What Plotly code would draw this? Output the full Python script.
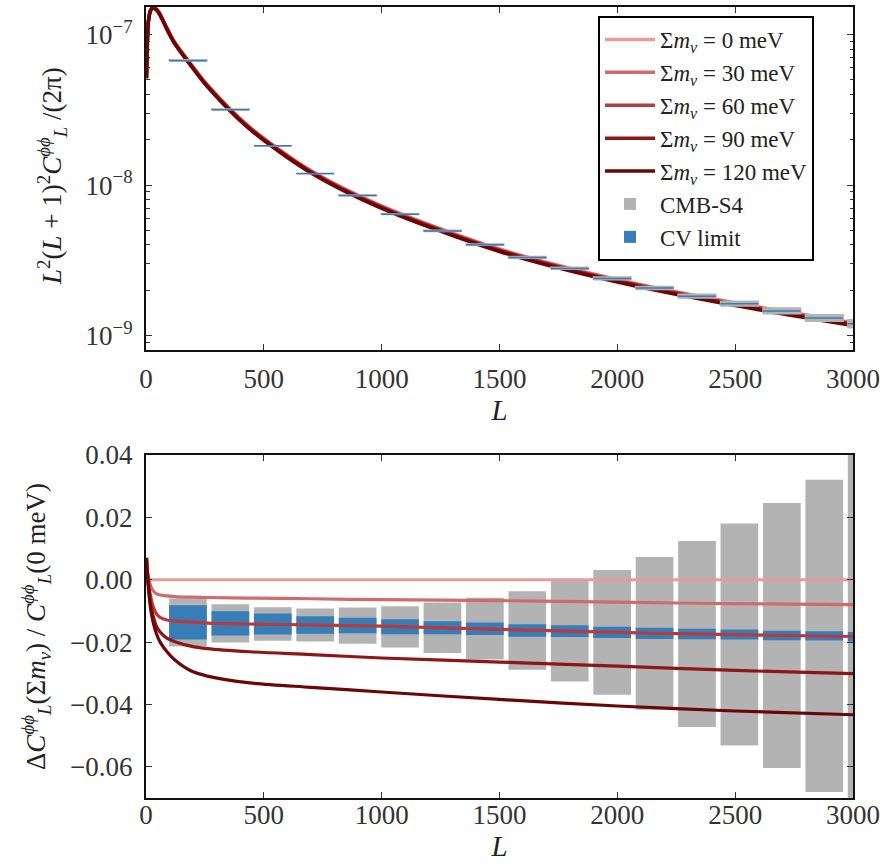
import plotly.graph_objects as go

# ---------------------------------------------------------------------------
# Lensing-potential power spectrum and its response to the neutrino mass sum
# ---------------------------------------------------------------------------

# Multipoles at which the curves are sampled
L_grid = [2, 5, 10, 20, 30, 45, 60, 90, 120, 190, 260, 440, 700, 1000,
          1500, 2000, 2500, 3000]

# L^2 (L+1)^2 C_L^{phi phi} / (2 pi) for the massless case
cl_0mev = [5.1e-8, 8.0e-8, 1.22e-7, 1.46e-7, 1.52e-7, 1.48e-7, 1.37e-7,
           1.10e-7, 9.0e-8, 6.4e-8, 4.65e-8, 2.43e-8, 1.247e-8, 7.27e-9,
           3.76e-9, 2.36e-9, 1.65e-9, 1.22e-9]

# Fractional change of C_L^{phi phi} relative to 0 meV
frac_0mev = [0.0] * len(L_grid)
frac_30mev = [0.007, 0.004, 0.001, -0.002, -0.0035, -0.0045, -0.0049, -0.0052,
              -0.0054, -0.0056, -0.0057, -0.0059, -0.0061, -0.0064, -0.0067,
              -0.0072, -0.0077, -0.0080]
frac_60mev = [0.007, 0.0035, -0.0005, -0.0055, -0.0085, -0.0110, -0.0121,
              -0.0129, -0.0132, -0.0136, -0.0139, -0.0142, -0.0145, -0.0149,
              -0.0159, -0.0169, -0.0176, -0.0182]
frac_90mev = [0.007, 0.003, -0.0015, -0.0080, -0.0115, -0.0150, -0.0168,
              -0.0188, -0.0198, -0.0213, -0.0221, -0.0231, -0.0240, -0.0251,
              -0.0264, -0.0277, -0.0291, -0.0301]
frac_120mev = [0.007, 0.0025, -0.0025, -0.0095, -0.0135, -0.0175, -0.0200,
               -0.0232, -0.0256, -0.0292, -0.0309, -0.0331, -0.0345, -0.0360,
               -0.0384, -0.0405, -0.0421, -0.0433]

mass_labels = ["0", "30", "60", "90", "120"]
mass_fracs = [frac_0mev, frac_30mev, frac_60mev, frac_90mev, frac_120mev]
mass_colors = ["#e99a9b", "#d06a6b", "#b73a3c", "#8e1616", "#6c0606"]

# Band-power bins
bin_L = [178, 358, 538, 718, 898, 1078, 1258, 1438, 1618, 1798, 1978, 2158,
         2338, 2518, 2698, 2878, 3058]
bin_value = [6.74e-8, 3.18e-8, 1.83e-8, 1.196e-8, 8.54e-9, 6.41e-9, 4.96e-9,
             4.02e-9, 3.31e-9, 2.80e-9, 2.40e-9, 2.07e-9, 1.83e-9, 1.63e-9,
             1.46e-9, 1.31e-9, 1.20e-9]
bin_frac_center = [-0.0137, -0.0140, -0.0142, -0.0145, -0.0147, -0.0151,
                   -0.0154, -0.0157, -0.0163, -0.0165, -0.0169, -0.0172,
                   -0.0174, -0.0176, -0.0179, -0.0180, -0.0183]
s4_err = [0.0077, 0.0061, 0.0054, 0.0053, 0.0058, 0.0066, 0.0081, 0.0099,
          0.0126, 0.0161, 0.0200, 0.0245, 0.0298, 0.0356, 0.0425, 0.0501,
          0.0600]
cv_err = [0.0055, 0.0039, 0.0034, 0.0028, 0.0025, 0.0024, 0.0021, 0.0020,
          0.0020, 0.0019, 0.0018, 0.0018, 0.0017, 0.0016, 0.0015, 0.0015,
          0.0015]

x_tick_vals = [0, 500, 1000, 1500, 2000, 2500, 3000]
top_tick_vals = [1e-9, 1e-8, 1e-7]
top_tick_text = ["10<sup>\u22129</sup>", "10<sup>\u22128</sup>", "10<sup>\u22127</sup>"]
top_minor_vals = [m * 10.0 ** e for e in (-10, -9, -8, -7) for m in range(2, 10)]
bottom_tick_vals = [-0.06, -0.04, -0.02, 0.0, 0.02, 0.04]

S4_COLOR = "#b3b3b3"
CV_COLOR = "#377eb8"
BAR_WIDTH = 160
FONT = "Liberation Serif"

W, H = 885, 865
x_dom = [146 / W, 853 / W]
top_dom = [1 - 350 / H, 1 - 7 / H]
bot_dom = [1 - 798 / H, 1 - 455 / H]

fig = go.Figure()

# --- upper panel: spectra for each neutrino mass ---------------------------
for lab, frac, col in zip(mass_labels, mass_fracs, mass_colors):
    spec = [c * (1.0 + f) for c, f in zip(cl_0mev, frac)]
    fig.add_trace(go.Scatter(
        x=L_grid, y=spec, mode="lines", xaxis="x", yaxis="y",
        line=dict(color=col, width=3.5, shape="spline", smoothing=0.8),
        name="\u03a3<i>m</i><sub><i>\u03bd</i></sub> = " + lab + " meV",
        legendgroup=lab,
    ))

# --- lower panel: error boxes (carry the legend entries for the boxes) ----
fig.add_trace(go.Bar(
    x=bin_L, y=[2 * e for e in s4_err],
    base=[c - e for c, e in zip(bin_frac_center, s4_err)],
    width=BAR_WIDTH, marker=dict(color=S4_COLOR, line=dict(width=0)),
    xaxis="x2", yaxis="y2", name="CMB-S4", legendgroup="s4",
))
fig.add_trace(go.Bar(
    x=bin_L, y=[2 * e for e in cv_err],
    base=[c - e for c, e in zip(bin_frac_center, cv_err)],
    width=BAR_WIDTH, marker=dict(color=CV_COLOR, line=dict(width=0)),
    xaxis="x2", yaxis="y2", name="CV limit", legendgroup="cv",
))


def box_path(centers, values, errs):
    xs, ys = [], []
    for xc, v, e in zip(centers, values, errs):
        x0, x1 = xc - BAR_WIDTH / 2, xc + BAR_WIDTH / 2
        y0, y1 = v * (1 - e), v * (1 + e)
        xs += [x0, x1, x1, x0, x0, None]
        ys += [y0, y0, y1, y1, y0, None]
    return xs, ys


# --- upper panel: band-power boxes on top of the spectra ---------------------
for errs, col in ((s4_err, S4_COLOR), (cv_err, CV_COLOR)):
    bx, by = box_path(bin_L, bin_value, errs)
    fig.add_trace(go.Scatter(
        x=bx, y=by, mode="lines", fill="toself", fillcolor=col,
        line=dict(color=col, width=1.5), xaxis="x", yaxis="y",
        showlegend=False, hoverinfo="skip",
    ))

# --- lower panel: fractional differences ------------------------------------
for lab, frac, col in zip(mass_labels, mass_fracs, mass_colors):
    fig.add_trace(go.Scatter(
        x=L_grid, y=frac, mode="lines", xaxis="x2", yaxis="y2",
        line=dict(color=col, width=3.2, shape="spline", smoothing=0.8),
        showlegend=False,
    ))

axis_common = dict(
    showline=True, linecolor="#111", linewidth=2, mirror="ticks",
    ticks="inside", ticklen=6, tickwidth=1.2, tickcolor="#333",
    showgrid=False, zeroline=False, automargin=False,
    tickfont=dict(family=FONT, size=27, color="#333"),
)

fig.update_layout(
    template="none",
    width=W, height=H,
    margin=dict(l=0, r=0, t=0, b=0),
    paper_bgcolor="white", plot_bgcolor="white",
    font=dict(family=FONT, size=27, color="#222"),
    barmode="overlay",
    xaxis=dict(domain=x_dom, anchor="y", range=[0, 3000], tickvals=x_tick_vals,
               ticklabelstandoff=4,
               title=dict(text="<i>L</i>", standoff=4,
                          font=dict(family=FONT, size=29, color="#222")),
               **axis_common),
    yaxis=dict(domain=top_dom, anchor="x", type="log", range=[-9.096, -6.817],
               tickvals=top_tick_vals, ticktext=top_tick_text,
               ticklabelstandoff=6,
               minor=dict(tickmode="array", tickvals=top_minor_vals,
                          ticks="inside", ticklen=3.5, tickwidth=1,
                          tickcolor="#333", showgrid=False),
               **axis_common),
    xaxis2=dict(domain=x_dom, anchor="y2", range=[0, 3000], tickvals=x_tick_vals,
                ticklabelstandoff=-8,
                title=dict(text="<i>L</i>", standoff=3,
                           font=dict(family=FONT, size=29, color="#222")),
                **axis_common),
    yaxis2=dict(domain=bot_dom, anchor="x2", range=[-0.07, 0.04],
                tickvals=bottom_tick_vals, tickformat=".2f",
                ticklabelstandoff=6,
                **axis_common),
    legend=dict(
        x=598 / W, y=1 - 16 / H, xanchor="left", yanchor="top",
        bgcolor="white", bordercolor="#000", borderwidth=2,
        font=dict(family=FONT, size=23, color="#222"),
        traceorder="grouped", tracegroupgap=0, itemwidth=50,
    ),
    annotations=[
        dict(text="<i>L</i><sup>2</sup>(<i>L</i> + 1)<sup>2</sup><i>C</i>"
                  "<sup><i>\u03d5\u03d5</i></sup><sub><i>L</i></sub> /(2\u03c0)",
             x=52 / W, y=1 - 176 / H, xref="paper", yref="paper",
             xanchor="center", yanchor="middle",
             textangle=-90, showarrow=False,
             font=dict(family=FONT, size=27, color="#222")),
        dict(text="\u0394<i>C</i><sup><i>\u03d5\u03d5</i></sup><sub><i>L</i></sub>"
                  "(\u03a3<i>m</i><sub><i>\u03bd</i></sub>) / "
                  "<i>C</i><sup><i>\u03d5\u03d5</i></sup><sub><i>L</i></sub>(0 meV)",
             x=36 / W, y=1 - 627 / H, xref="paper", yref="paper",
             xanchor="center", yanchor="middle",
             textangle=-90, showarrow=False,
             font=dict(family=FONT, size=27, color="#222")),
    ],
)

fig.write_html("out.html")
